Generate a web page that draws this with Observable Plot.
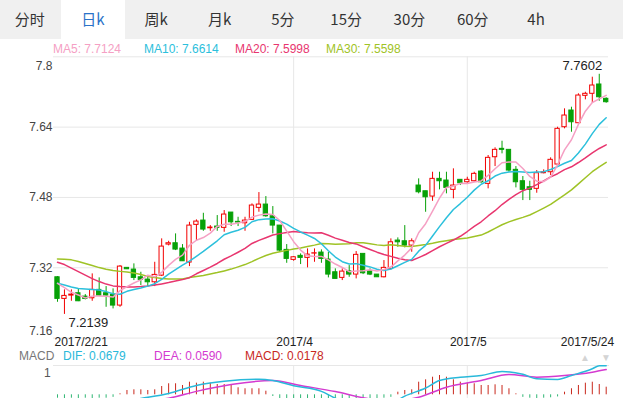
<!DOCTYPE html>
<html><head><meta charset="utf-8">
<script src="https://cdn.jsdelivr.net/npm/d3@7"></script>
<script src="https://cdn.jsdelivr.net/npm/@observablehq/plot@0.6"></script>
<style>
html,body{margin:0;padding:0;}
body{width:623px;height:398px;overflow:hidden;background:#fff;position:relative;font-family:"Liberation Sans",Arial,sans-serif;}
#tabs{position:absolute;left:0;top:0;width:623px;height:39px;background:#f0f0f0;}
.tab{position:absolute;top:0;height:39px;line-height:38px;text-align:center;font-family:"Noto Sans CJK SC","Noto Sans",sans-serif;font-size:15px;color:#333;}
.tab.active{background:#fff;color:#2a72c8;}
.lbl{position:absolute;white-space:nowrap;font-size:12px;line-height:14px;}
.abs{position:absolute;left:0;top:0;width:623px;}
.abs svg{max-width:none !important;}
</style></head><body>
<div id="tabs"></div>
<div id="legend"></div>
<div id="main" class="abs" style="height:360px;"></div>
<div id="macd" class="abs" style="top:364px;height:34px;overflow:hidden;"></div>
<script>
// ---------- data ----------
const tabNames = ["分时","日k","周k","月k","5分","15分","30分","60分","4h"];
const activeTab = 1;
const xTickIdx = [0, 34, 59, 79];
const xTickLabels = ["2017/2/21", "2017/4", "2017/5", "2017/5/24"];
const yTicks = [7.16, 7.32, 7.48, 7.64, 7.8];
const maNames = ["MA5", "MA10", "MA20", "MA30"];
const maLegendValues = ["7.7124", "7.6614", "7.5998", "7.5598"];
const macdNames = ["DIF", "DEA", "MACD"];
const macdLegendValues = ["0.0679", "0.0590", "0.0178"];

const openP = [7.2984,7.2492,7.2567,7.2620,7.2544,7.2506,7.2697,7.2620,7.2590,7.2340,
7.3198,7.3159,7.2984,7.2931,7.2870,7.3022,7.3728,7.3758,7.3637,7.3318,
7.4176,7.4274,7.4099,7.4138,7.4108,7.4456,7.4245,7.4213,7.4290,7.4563,
7.4638,7.4372,7.4160,7.3607,7.3380,7.3471,7.3425,7.3523,7.3546,7.3387,
7.3098,7.2970,7.3120,7.3045,7.3516,7.3120,7.3045,7.2984,7.3175,7.3819,
7.3803,7.3705,7.5071,7.4941,7.4820,7.5223,7.5185,7.4973,7.5201,7.5146,
7.5169,7.5389,7.5109,7.5715,7.5906,7.5883,7.5428,7.5169,7.5032,7.4996,
7.5351,7.5374,7.5549,7.6398,7.6778,7.6489,7.7112,7.7158,7.7370,7.7044];
const highP = [7.3000,7.2697,7.2697,7.2720,7.2590,7.3061,7.2970,7.2772,7.2720,7.3250,
7.3205,7.3289,7.3098,7.2984,7.3325,7.3858,7.3803,7.3971,7.3728,7.4235,
7.4290,7.4440,7.4160,7.4388,7.4502,7.4456,7.4349,7.4349,7.4654,7.4911,
7.4820,7.4593,7.4160,7.3728,7.3455,7.3516,7.3630,7.3630,7.3607,7.3553,
7.3175,7.3175,7.3250,7.3569,7.3516,7.3175,7.3045,7.3364,7.3858,7.3880,
7.4160,7.3858,7.5223,7.4941,7.5374,7.5374,7.5374,7.5451,7.5201,7.5260,
7.5374,7.5412,7.5754,7.5929,7.6079,7.5883,7.5503,7.5276,7.5169,7.5412,
7.5428,7.5701,7.6398,7.6816,7.6853,7.7158,7.7194,7.7536,7.7602,7.7067];
const lowP = [7.2415,7.2139,7.2438,7.2430,7.2469,7.2438,7.2544,7.2301,7.2264,7.2301,
7.3159,7.2909,7.2795,7.2772,7.2772,7.3000,7.3698,7.3591,7.3348,7.3227,
7.3819,7.4030,7.4030,7.4030,7.4008,7.4138,7.4138,7.4030,7.4274,7.4463,
7.4349,7.3971,7.3553,7.3302,7.3348,7.3273,7.3198,7.3325,7.3302,7.2970,
7.2947,7.2909,7.2984,7.2947,7.3045,7.3022,7.2984,7.2970,7.3152,7.3666,
7.3653,7.3553,7.4882,7.4463,7.4713,7.4973,7.4882,7.4768,7.5071,7.5123,
7.5146,7.5123,7.4996,7.5503,7.5792,7.5374,7.5018,7.4729,7.4729,7.4896,
7.5337,7.5298,7.5503,7.6361,7.6284,7.6475,7.7021,7.6944,7.6989,7.6944];
const closeP = [7.2492,7.2560,7.2590,7.2438,7.2492,7.2697,7.2567,7.2567,7.2340,7.3227,
7.3166,7.2970,7.2925,7.2870,7.3038,7.3682,7.3758,7.3614,7.3348,7.4160,
7.4251,7.4069,7.4115,7.4108,7.4411,7.4235,7.4229,7.4274,7.4616,7.4638,
7.4372,7.4160,7.3591,7.3402,7.3439,7.3425,7.3500,7.3530,7.3402,7.3045,
7.2947,7.3113,7.3045,7.3494,7.3075,7.3045,7.2984,7.3198,7.3780,7.3780,
7.3705,7.3803,7.4918,7.4804,7.5223,7.5169,7.5018,7.5071,7.5123,7.5201,
7.5337,7.5146,7.5701,7.5883,7.5883,7.5412,7.5146,7.4973,7.4973,7.5351,
7.5374,7.5656,7.6361,7.6664,7.6511,7.7119,7.7158,7.7347,7.7080,7.6967];

const ma5 = [7.2847,7.2749,7.2642,7.2579,7.2514,7.2555,7.2557,7.2552,7.2533,7.2680,
7.2773,7.2854,7.2926,7.3032,7.2994,7.3097,7.3255,7.3392,7.3488,7.3712,
7.3826,7.3888,7.3989,7.4141,7.4191,7.4188,7.4220,7.4251,7.4353,7.4398,
7.4426,7.4412,7.4275,7.4033,7.3793,7.3603,7.3471,7.3459,7.3459,7.3380,
7.3285,7.3207,7.3110,7.3129,7.3135,7.3154,7.3129,7.3159,7.3216,7.3357,
7.3489,7.3653,7.3997,7.4202,7.4491,7.4783,7.5026,7.5057,7.5121,7.5116,
7.5150,7.5176,7.5302,7.5454,7.5590,7.5605,7.5605,7.5459,7.5277,7.5171,
7.5163,7.5265,7.5543,7.5881,7.6113,7.6462,7.6763,7.6960,7.7043,7.7124];
const ma10 = [7.2847,7.2806,7.2761,7.2727,7.2715,7.2704,7.2692,7.2658,7.2610,7.2597,
7.2664,7.2705,7.2739,7.2782,7.2837,7.2935,7.3054,7.3159,7.3260,7.3353,
7.3462,7.3572,7.3691,7.3814,7.3952,7.4007,7.4054,7.4120,7.4247,7.4295,
7.4307,7.4316,7.4263,7.4193,7.4096,7.4015,7.3942,7.3867,7.3746,7.3587,
7.3444,7.3339,7.3285,7.3294,7.3258,7.3220,7.3168,7.3135,7.3173,7.3246,
7.3322,7.3391,7.3578,7.3709,7.3924,7.4136,7.4340,7.4527,7.4661,7.4804,
7.4967,7.5101,7.5179,7.5287,7.5353,7.5378,7.5390,7.5381,7.5366,7.5381,
7.5384,7.5435,7.5501,7.5579,7.5642,7.5813,7.6014,7.6251,7.6462,7.6614];
const ma20 = [7.3325,7.3273,7.3193,7.3113,7.3034,7.2954,7.2886,7.2829,7.2788,7.2772,
7.2765,7.2765,7.2772,7.2783,7.2806,7.2833,7.2863,7.2897,7.2931,7.2975,
7.3063,7.3138,7.3215,7.3298,7.3394,7.3471,7.3554,7.3640,7.3753,7.3824,
7.3884,7.3944,7.3977,7.4004,7.4024,7.4011,7.3998,7.3994,7.3996,7.3941,
7.3875,7.3828,7.3774,7.3743,7.3677,7.3617,7.3555,7.3501,7.3459,7.3416,
7.3383,7.3365,7.3432,7.3502,7.3591,7.3678,7.3754,7.3831,7.3917,7.4025,
7.4144,7.4246,7.4379,7.4498,7.4639,7.4757,7.4865,7.4954,7.5013,7.5092,
7.5175,7.5268,7.5340,7.5433,7.5498,7.5595,7.5702,7.5816,7.5914,7.5998];
const ma30 = [7.3402,7.3396,7.3380,7.3341,7.3296,7.3250,7.3204,7.3166,7.3136,7.3118,
7.3102,7.3079,7.3045,7.3004,7.2977,7.2954,7.2947,7.2947,7.2947,7.2977,
7.3000,7.3022,7.3057,7.3091,7.3129,7.3170,7.3220,7.3273,7.3341,7.3415,
7.3478,7.3531,7.3564,7.3596,7.3628,7.3652,7.3683,7.3715,7.3751,7.3745,
7.3737,7.3742,7.3746,7.3767,7.3768,7.3747,7.3721,7.3707,7.3722,7.3709,
7.3691,7.3682,7.3709,7.3732,7.3759,7.3790,7.3817,7.3843,7.3860,7.3879,
7.3911,7.3944,7.4014,7.4097,7.4178,7.4245,7.4299,7.4347,7.4400,7.4477,
7.4558,7.4642,7.4753,7.4859,7.4973,7.5109,7.5248,7.5386,7.5496,7.5598];

const macdBar = [-0.008,-0.009,-0.008,-0.009,-0.008,-0.009,-0.008,-0.008,-0.006,0.0023,
0.0101,0.0117,0.0117,0.0101,0.0117,0.0194,0.0258,0.0258,0.0218,0.0295,
0.0272,0.0295,0.0272,0.0241,0.0241,0.0218,0.0164,0.0141,0.0141,0.0141,
0.0084,-0.004,-0.012,-0.015,-0.016,-0.017,-0.017,-0.018,-0.018,-0.018,
-0.017,-0.016,-0.015,-0.013,-0.012,-0.011,-0.010,-0.008,-0.006,0.0061,
0.0101,0.0117,0.0295,0.0351,0.0412,0.0452,0.0412,0.0351,0.0295,0.0272,
0.0258,0.0218,0.0218,0.0234,0.0218,0.0141,0.0023,-0.006,-0.008,-0.009,
-0.008,-0.007,-0.005,0.0061,0.0141,0.0218,0.0272,0.0295,0.0241,0.0178];
const difIdx = [0,4,8,12,16,20,24,29,31,34,38,40,44,48,50,53,55,58,61,64,67,69,72,74,77,78,79];
const difVal = [-0.025,-0.028,-0.020,-0.0087,0.003,0.022,0.0318,0.0365,0.0335,0.021,0.008,-0.008,-0.025,-0.020,-0.003,0.016,0.0335,0.0412,0.0452,0.0546,0.048,0.0375,0.0358,0.0452,0.0609,0.0679,0.0679];
const deaIdx = [0,8,12,16,20,25,31,35,40,44,48,52,56,61,65,69,73,77,79];
const deaVal = [-0.020,-0.022,-0.0145,-0.008,0.008,0.0241,0.0335,0.0218,0.0075,-0.007,-0.015,-0.0056,0.0178,0.0335,0.0475,0.0412,0.045,0.0529,0.0590];

// ---------- colours ----------
const UP = "#f20000", DOWN = "#07a107";
const maColors = ["#f5a0c4", "#2cc0dc", "#e8366f", "#9fc326"];
const macdColors = ["#29b9da", "#d43ad0", "#c8281e"];
const GRID = "#e7e7e7";

// ---------- tabs ----------
const tabsEl = document.getElementById("tabs");
tabNames.forEach((t, k) => {
  const d = document.createElement("div");
  d.className = "tab" + (k === activeTab ? " active" : "");
  d.style.left = (-2 + 63.3 * k) + "px";
  d.style.width = "63.3px";
  d.textContent = t;
  tabsEl.appendChild(d);
});

// ---------- legends ----------
const legendEl = document.getElementById("legend");
function addLabel(text, left, top, color, extra) {
  const d = document.createElement("div");
  d.className = "lbl";
  d.style.left = left + "px";
  d.style.top = top + "px";
  d.style.color = color;
  if (extra) Object.assign(d.style, extra);
  d.textContent = text;
  legendEl.appendChild(d);
  return d;
}
const maLeft = [53, 144, 235, 326];
maNames.forEach((n, k) => addLabel(n + ": " + maLegendValues[k], maLeft[k], 42, maColors[k]));
addLabel("MACD", 19, 349, "#777");
const macdLeft = [63, 154, 245];
macdNames.forEach((n, k) => addLabel(n + ": " + macdLegendValues[k], macdLeft[k], 349, macdColors[k]));
addLabel("\u25B2", 580, 351, "#d4d4d4", {fontSize: "10px"});
addLabel("\u25BC", 601, 351, "#d4d4d4", {fontSize: "10px"});
addLabel("1", 44, 366, "#555");
const topLine = document.createElement("div");
Object.assign(topLine.style, {position: "absolute", left: "53px", top: "365px", width: "556px", height: "1px", background: GRID});
legendEl.appendChild(topLine);

// ---------- main chart ----------
const N = openP.length;
const idx = openP.map((_, i) => i);
const candles = idx.map(i => ({i, o: openP[i], h: highP[i], l: lowP[i], c: closeP[i], up: closeP[i] >= openP[i]}));
const hiIdx = d3.maxIndex(highP), loIdx = d3.minIndex(lowP);
const half = 0.31;
const fmtX = i => xTickLabels[xTickIdx.indexOf(i)];

const main = Plot.plot({
  width: 623, height: 360,
  marginTop: 56.3, marginBottom: 22.4, marginLeft: 53, marginRight: 15,
  x: {type: "linear", domain: [0, N - 1], range: [57, 605.7], axis: null},
  y: {type: "linear", domain: [7.16, 7.8], range: [337.6, 56.3], axis: null},
  style: {background: "transparent", fontFamily: "Liberation Sans, Arial, sans-serif", fontSize: "12px", overflow: "visible", maxWidth: "none"},
  marks: [
    Plot.ruleY(yTicks, {stroke: GRID}),
    Plot.ruleX(xTickIdx.slice(1, 3), {stroke: GRID}),
    Plot.text(yTicks.slice(1, -1), {y: d => d, text: d => String(d), frameAnchor: "left", textAnchor: "end", dx: -1, fill: "#444", fontSize: 12}),
    Plot.text(yTicks.slice(-1), {y: d => d, text: d => String(d), frameAnchor: "left", textAnchor: "end", dx: -1, dy: 9, fill: "#444", fontSize: 12}),
    Plot.text(yTicks.slice(0, 1), {y: d => d, text: d => String(d), frameAnchor: "left", textAnchor: "end", dx: -1, dy: -7, fill: "#444", fontSize: 12}),
    Plot.text(xTickIdx.slice(0, 1), {x: d => d, text: fmtX, frameAnchor: "bottom", textAnchor: "start", dx: -3, dy: 8, fill: "#222", fontSize: 12}),
    Plot.text(xTickIdx.slice(1, 3), {x: d => d, text: fmtX, frameAnchor: "bottom", textAnchor: "middle", dx: 1, dy: 8, fill: "#222", fontSize: 12}),
    Plot.text(xTickIdx.slice(3), {x: d => d, text: fmtX, frameAnchor: "bottom", textAnchor: "end", dx: 8, dy: 8, fill: "#222", fontSize: 12}),
    Plot.ruleX(candles, {x: "i", y1: "l", y2: "h", stroke: d => d.up ? UP : DOWN, strokeWidth: 1}),
    Plot.rect(candles, {x1: d => d.i - half, x2: d => d.i + half, y1: "o", y2: "c",
      fill: d => d.up ? "#fff" : DOWN, stroke: d => d.up ? UP : DOWN, strokeWidth: 1}),
    Plot.line(idx, {x: d => d, y: d => ma30[d], stroke: maColors[3], strokeWidth: 1.5}),
    Plot.line(idx, {x: d => d, y: d => ma20[d], stroke: maColors[2], strokeWidth: 1.5}),
    Plot.line(idx, {x: d => d, y: d => ma10[d], stroke: maColors[1], strokeWidth: 1.5}),
    Plot.line(idx, {x: d => d, y: d => ma5[d], stroke: maColors[0], strokeWidth: 1.5}),
    Plot.text([hiIdx], {x: d => d, y: d => highP[d], text: d => highP[d].toFixed(4), textAnchor: "end", dx: 3, dy: -8, fill: "#222", fontSize: 13}),
    Plot.text([loIdx], {x: d => d, y: d => lowP[d], text: d => lowP[d].toFixed(4), textAnchor: "start", dx: 4, dy: 8, fill: "#222", fontSize: 13})
  ]
});
main.style.position = "absolute"; main.style.left = "0px"; main.style.top = "0px";
document.getElementById("main").appendChild(main);

// ---------- MACD panel ----------
const difData = difIdx.map((i, k) => ({i, v: difVal[k]}));
const deaData = deaIdx.map((i, k) => ({i, v: deaVal[k]}));
const macd = Plot.plot({
  width: 623, height: 34,
  marginTop: 1, marginBottom: 0, marginLeft: 53, marginRight: 15,
  x: {type: "linear", domain: [0, N - 1], range: [57, 605.7], axis: null},
  y: {type: "linear", domain: [0, 0.0679], range: [30.3, 1.3], axis: null},
  style: {background: "transparent", overflow: "hidden", maxWidth: "none"},
  marks: [
    Plot.ruleX(xTickIdx.slice(1, 3), {stroke: GRID}),
    Plot.ruleX(idx, {x: d => d, y1: 0, y2: d => macdBar[d], stroke: d => macdBar[d] >= 0 ? "#c9281c" : "#2fb673", strokeWidth: 1}),
    Plot.line(deaData, {x: "i", y: "v", stroke: macdColors[1], strokeWidth: 1.5, curve: "monotone-x"}),
    Plot.line(difData, {x: "i", y: "v", stroke: macdColors[0], strokeWidth: 1.5, curve: "monotone-x"})
  ]
});
macd.style.position = "absolute"; macd.style.left = "0px"; macd.style.top = "0px";
document.getElementById("macd").appendChild(macd);
</script>
</body></html>
